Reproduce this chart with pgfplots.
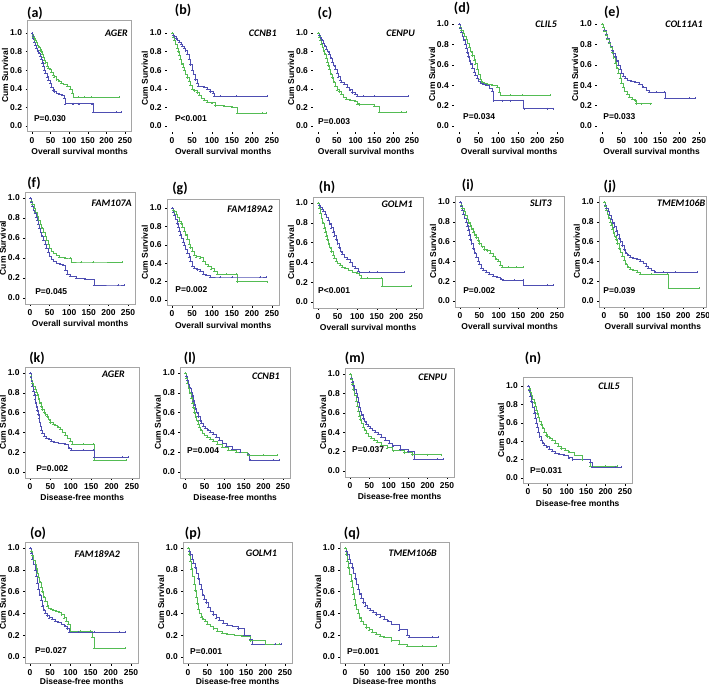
\documentclass[border=0pt]{standalone}
\usepackage{fontspec}
\setmainfont{Liberation Sans}
\newfontfamily\calib{Carlito}
\usepackage{pgfplots}
\pgfplotsset{compat=1.18}
\definecolor{kmblue}{RGB}{78,78,178}
\definecolor{kmgreen}{RGB}{84,188,84}
\definecolor{framegray}{RGB}{165,165,165}
\tikzset{
 gene/.style={anchor=east, font=\calib\bfseries\itshape\fontsize{10}{10}\selectfont, inner sep=0pt},
 pv/.style={anchor=west, font=\fontsize{8.5}{9}\selectfont\bfseries, inner sep=0pt},
 plab/.style={font=\calib\bfseries\fontsize{14}{14}\selectfont, inner sep=0pt},
}
\pgfplotsset{
 km/.style={anchor=origin, xmin=-12, xmax=268, ymin=-0.06, ymax=1.08,
  xtick={0,50,100,150,200,250}, ytick={0,0.2,0.4,0.6,0.8,1.0},
  yticklabel style={/pgf/number format/fixed,/pgf/number format/fixed zerofill,/pgf/number format/precision=1},
  /pgf/number format/assume math mode=true,
  tick label style={font=\fontsize{8.5}{9}\selectfont\bfseries},
  label style={font=\fontsize{8.5}{9}\selectfont\bfseries},
  ylabel={Cum Survival},
  tick pos=left, tick align=outside, major tick length=2pt,
  tick style={black, line width=0.4pt},
  axis line style={framegray, line width=0.6pt},
  xlabel shift=-2pt, ylabel shift=-5pt,
 },
 OS/.style={xlabel={Overall survival months}},
 DF/.style={xlabel={Disease-free months}},
 DFb/.style={xlabel={Disease-free months}, xlabel shift=-4pt},
 noframe/.style={axis line style={draw=none}},
 gl/.style={const plot, color=kmgreen, line width=0.6pt, mark=+, mark size=1pt, mark options={line width=0.35pt}},
 bl/.style={const plot, color=kmblue, line width=0.6pt, mark=+, mark size=1pt, mark options={line width=0.35pt}},
}
\begin{document}
\begin{tikzpicture}
\useasboundingbox (0,0) rectangle (709pt,-686pt);
% ---------------- Row 1 ----------------
\begin{axis}[km, OS, at={(32pt,-126pt)}, x=0.372pt, y=93pt, ymax=1.14]
\addplot[gl] coordinates {(0,1)(2,0.98)(4,0.96)(6,0.94)(9,0.92)(12,0.9)(15,0.87)(18,0.85)(21,0.82)(24,0.8)(27,0.77)(30,0.74)(33,0.71)(36,0.68)(40,0.64)(44,0.62)(48,0.61)(52,0.58)(56,0.55)(60,0.53)(66,0.5)(72,0.48)(78,0.46)(85,0.45)(95,0.43)(102,0.4)(108,0.35)(112,0.31)(125,0.31)(140,0.31)(160,0.31)(235,0.31)};
\addplot[bl] coordinates {(0,1)(2,0.97)(4,0.94)(6,0.9)(9,0.87)(12,0.84)(15,0.81)(18,0.78)(21,0.75)(24,0.72)(27,0.68)(30,0.64)(33,0.6)(36,0.57)(40,0.53)(44,0.49)(48,0.46)(52,0.42)(56,0.39)(60,0.37)(66,0.35)(72,0.34)(80,0.33)(86,0.3)(90,0.24)(110,0.24)(125,0.24)(162,0.24)(164,0.15)(225,0.15)(240,0.15)};
\node[gene] at (axis cs:258,1.0) {AGER};
\node[pv] at (axis cs:5,0.075) {P=0.030};
\end{axis}
\node[plab] at (35pt,-13pt) {(a)};

\begin{axis}[km, OS, noframe, at={(172pt,-126pt)}, x=0.4pt, y=93pt]
\addplot[bl] coordinates {(0,1)(3,0.98)(6,0.96)(10,0.94)(14,0.92)(18,0.9)(22,0.88)(26,0.86)(30,0.84)(34,0.81)(38,0.77)(42,0.72)(46,0.66)(50,0.6)(54,0.56)(58,0.5)(62,0.46)(66,0.43)(80,0.42)(88,0.4)(95,0.37)(102,0.35)(106,0.32)(120,0.32)(160,0.32)(238,0.32)};
\addplot[gl] coordinates {(0,1)(3,0.96)(6,0.92)(9,0.88)(12,0.84)(15,0.8)(18,0.76)(21,0.72)(24,0.67)(27,0.63)(30,0.6)(34,0.56)(38,0.52)(42,0.48)(46,0.44)(50,0.4)(56,0.38)(62,0.36)(68,0.33)(74,0.3)(80,0.28)(88,0.26)(100,0.25)(108,0.22)(130,0.21)(150,0.2)(163,0.14)(225,0.14)(235,0.14)};
\node[gene] at (axis cs:262,1.0) {CCNB1};
\node[pv] at (axis cs:7,0.075) {P<0.001};
\end{axis}
\node[plab] at (183pt,-10pt) {(b)};

\begin{axis}[km, OS, noframe, at={(318pt,-126pt)}, x=0.376pt, y=93pt]
\addplot[bl] coordinates {(0,1)(3,0.98)(6,0.95)(10,0.92)(14,0.89)(18,0.86)(22,0.83)(26,0.8)(30,0.77)(34,0.73)(38,0.69)(42,0.65)(46,0.61)(50,0.57)(54,0.53)(58,0.49)(62,0.47)(70,0.45)(78,0.42)(84,0.39)(90,0.36)(98,0.34)(105,0.32)(120,0.32)(150,0.32)(240,0.32)};
\addplot[gl] coordinates {(0,1)(3,0.96)(6,0.92)(9,0.88)(12,0.85)(15,0.81)(18,0.77)(21,0.73)(24,0.69)(27,0.65)(30,0.61)(34,0.56)(38,0.52)(42,0.47)(46,0.43)(50,0.39)(56,0.37)(62,0.34)(68,0.31)(75,0.29)(85,0.28)(98,0.27)(105,0.24)(110,0.23)(150,0.21)(163,0.15)(220,0.15)(235,0.15)};
\node[gene] at (axis cs:258,1.0) {CENPU};
\node[pv] at (axis cs:0,0.05) {P=0.003};
\end{axis}
\node[plab] at (325pt,-13pt) {(c)};

\begin{axis}[km, OS, noframe, at={(459pt,-126pt)}, x=0.392pt, y=102pt]
\addplot[gl] coordinates {(0,1)(3,0.97)(6,0.94)(10,0.91)(14,0.88)(18,0.85)(22,0.81)(26,0.77)(30,0.73)(34,0.69)(38,0.65)(42,0.61)(46,0.56)(50,0.51)(54,0.46)(58,0.43)(64,0.42)(72,0.41)(85,0.4)(98,0.38)(103,0.33)(106,0.3)(130,0.3)(160,0.3)(232,0.3)};
\addplot[bl] coordinates {(0,1)(3,0.96)(6,0.92)(9,0.88)(12,0.84)(15,0.8)(18,0.76)(21,0.72)(24,0.68)(27,0.64)(30,0.61)(34,0.57)(38,0.53)(42,0.5)(46,0.47)(50,0.44)(55,0.42)(62,0.41)(70,0.4)(78,0.37)(85,0.34)(88,0.25)(110,0.25)(130,0.25)(163,0.25)(165,0.17)(225,0.17)(240,0.17)};
\node[gene] at (axis cs:250,1.0) {CLIL5};
\node[pv] at (axis cs:10,0.09) {P=0.034};
\end{axis}
\node[plab] at (462pt,-8pt) {(d)};

\begin{axis}[km, OS, noframe, at={(602pt,-126pt)}, x=0.388pt, y=102pt]
\addplot[bl] coordinates {(0,1)(3,0.97)(6,0.94)(10,0.9)(14,0.86)(18,0.82)(22,0.78)(26,0.74)(30,0.71)(34,0.68)(38,0.64)(42,0.6)(46,0.56)(50,0.52)(55,0.49)(60,0.47)(66,0.45)(75,0.44)(85,0.43)(95,0.41)(105,0.38)(115,0.35)(122,0.33)(140,0.33)(160,0.33)(163,0.27)(225,0.27)(240,0.27)};
\addplot[gl] coordinates {(0,1)(3,0.97)(6,0.93)(10,0.89)(14,0.85)(18,0.81)(22,0.77)(26,0.72)(30,0.67)(34,0.62)(38,0.57)(42,0.52)(46,0.47)(50,0.42)(54,0.38)(58,0.34)(64,0.31)(70,0.28)(78,0.26)(85,0.25)(88,0.22)(100,0.22)(125,0.22)};
\node[gene] at (axis cs:260,1.0) {COL11A1};
\node[pv] at (axis cs:3,0.09) {P=0.033};
\end{axis}
\node[plab] at (612pt,-12pt) {(e)};

% ---------------- Row 2 ----------------
\begin{axis}[km, OS, at={(30pt,-298pt)}, x=0.392pt, y=100pt, ymax=1.06]
\addplot[gl] coordinates {(0,1)(3,0.97)(6,0.94)(10,0.9)(14,0.86)(18,0.82)(22,0.78)(26,0.74)(30,0.7)(34,0.66)(38,0.62)(42,0.58)(46,0.54)(50,0.5)(55,0.47)(60,0.45)(68,0.43)(75,0.41)(90,0.4)(103,0.4)(106,0.36)(130,0.36)(160,0.36)(235,0.36)};
\addplot[bl] coordinates {(0,1)(3,0.96)(6,0.92)(9,0.88)(12,0.85)(15,0.81)(18,0.78)(21,0.74)(24,0.7)(27,0.66)(30,0.62)(34,0.58)(38,0.54)(42,0.5)(46,0.46)(50,0.42)(55,0.39)(60,0.37)(68,0.35)(76,0.34)(85,0.33)(90,0.28)(95,0.24)(102,0.22)(118,0.2)(140,0.19)(163,0.13)(225,0.13)(240,0.13)};
\node[gene] at (axis cs:260,0.95) {FAM107A};
\node[pv] at (axis cs:13,0.06) {P=0.045};
\end{axis}
\node[plab] at (34pt,-183pt) {(f)};

\begin{axis}[km, OS, at={(172pt,-300pt)}, x=0.4pt, y=92pt, ymax=1.09]
\addplot[gl] coordinates {(0,1)(3,0.98)(6,0.96)(10,0.93)(14,0.9)(18,0.86)(22,0.83)(26,0.79)(30,0.75)(34,0.71)(38,0.66)(42,0.61)(46,0.57)(50,0.53)(55,0.49)(60,0.47)(70,0.46)(78,0.42)(84,0.39)(90,0.37)(98,0.34)(106,0.31)(112,0.28)(135,0.28)(160,0.28)(163,0.2)(238,0.2)};
\addplot[bl] coordinates {(0,1)(3,0.96)(6,0.92)(9,0.88)(12,0.83)(15,0.79)(18,0.75)(21,0.71)(24,0.67)(27,0.63)(30,0.6)(34,0.55)(38,0.51)(42,0.47)(46,0.42)(50,0.37)(56,0.35)(62,0.33)(70,0.31)(78,0.28)(86,0.27)(95,0.25)(120,0.25)(150,0.25)(220,0.25)(235,0.25)};
\node[gene] at (axis cs:252,0.99) {FAM189A2};
\node[pv] at (axis cs:8,0.11) {P=0.002};
\end{axis}
\node[plab] at (180pt,-188pt) {(g)};

\begin{axis}[km, OS, at={(318pt,-302pt)}, x=0.392pt, y=99pt, ymax=1.06]
\addplot[bl] coordinates {(0,1)(3,0.98)(6,0.96)(10,0.94)(14,0.92)(18,0.89)(22,0.86)(26,0.83)(30,0.79)(34,0.75)(38,0.71)(42,0.67)(46,0.63)(50,0.59)(54,0.55)(58,0.51)(62,0.48)(68,0.45)(75,0.43)(82,0.4)(88,0.36)(95,0.34)(102,0.31)(106,0.3)(130,0.3)(150,0.3)(220,0.3)};
\addplot[gl] coordinates {(0,1)(3,0.95)(6,0.9)(9,0.85)(12,0.8)(15,0.75)(18,0.71)(21,0.67)(24,0.63)(27,0.59)(30,0.55)(34,0.51)(38,0.47)(42,0.44)(46,0.41)(50,0.39)(56,0.37)(62,0.35)(70,0.34)(78,0.32)(88,0.3)(100,0.29)(106,0.27)(110,0.24)(125,0.24)(160,0.24)(163,0.16)(238,0.16)};
\node[gene] at (axis cs:242,0.99) {GOLM1};
\node[pv] at (axis cs:0,0.12) {P<0.001};
\end{axis}
\node[plab] at (327pt,-187pt) {(h)};

\begin{axis}[km, OS, at={(460pt,-301pt)}, x=0.388pt, y=99pt, ymax=1.06]
\addplot[gl] coordinates {(0,1)(3,0.97)(6,0.94)(10,0.91)(14,0.87)(18,0.83)(22,0.79)(26,0.76)(30,0.73)(34,0.7)(38,0.67)(42,0.64)(46,0.61)(50,0.58)(56,0.55)(62,0.52)(70,0.51)(78,0.48)(86,0.45)(92,0.42)(98,0.4)(104,0.36)(108,0.34)(125,0.34)(145,0.34)(162,0.34)};
\addplot[bl] coordinates {(0,1)(3,0.96)(6,0.92)(9,0.88)(12,0.84)(15,0.8)(18,0.76)(21,0.72)(24,0.67)(27,0.62)(30,0.58)(34,0.53)(38,0.48)(42,0.44)(46,0.4)(50,0.37)(55,0.33)(60,0.31)(68,0.29)(76,0.27)(86,0.25)(95,0.24)(105,0.22)(112,0.21)(140,0.21)(162,0.21)(164,0.16)(225,0.16)(240,0.16)};
\node[gene] at (axis cs:237,0.99) {SLIT3};
\node[pv] at (axis cs:8,0.11) {P=0.002};
\end{axis}
\node[plab] at (468pt,-185pt) {(i)};

\begin{axis}[km, OS, at={(604pt,-301pt)}, x=0.396pt, y=99pt, ymax=1.06, xmax=259]
\addplot[bl] coordinates {(0,1)(3,0.97)(6,0.94)(10,0.91)(14,0.87)(18,0.83)(22,0.79)(26,0.75)(30,0.71)(34,0.67)(38,0.63)(42,0.6)(46,0.56)(50,0.52)(55,0.48)(60,0.46)(66,0.44)(74,0.43)(84,0.42)(92,0.4)(100,0.38)(106,0.35)(112,0.33)(120,0.31)(128,0.29)(150,0.29)(180,0.29)(235,0.29)};
\addplot[gl] coordinates {(0,1)(3,0.96)(6,0.92)(9,0.88)(12,0.84)(15,0.8)(18,0.77)(21,0.73)(24,0.69)(27,0.65)(30,0.62)(34,0.58)(38,0.53)(42,0.49)(46,0.45)(50,0.41)(55,0.37)(60,0.34)(66,0.32)(74,0.31)(84,0.29)(92,0.27)(120,0.27)(160,0.27)(163,0.13)(240,0.13)};
\node[gene] at (axis cs:256,0.99) {TMEM106B};
\node[pv] at (axis cs:-2,0.11) {P=0.039};
\end{axis}
\node[plab] at (610pt,-186pt) {(j)};

% ---------------- Row 3 ----------------
\begin{axis}[km, DF, at={(30pt,-472pt)}, x=0.408pt, y=99pt, ymax=1.06]
\addplot[gl] coordinates {(0,1)(2,0.97)(4,0.93)(6,0.9)(9,0.87)(12,0.84)(15,0.81)(18,0.78)(21,0.74)(24,0.7)(27,0.66)(30,0.63)(34,0.6)(38,0.58)(42,0.56)(46,0.53)(50,0.5)(56,0.48)(62,0.47)(68,0.45)(74,0.43)(80,0.4)(86,0.37)(92,0.34)(98,0.31)(104,0.28)(130,0.28)(155,0.28)(158,0.12)(235,0.12)};
\addplot[bl] coordinates {(0,1)(2,0.96)(4,0.92)(6,0.87)(8,0.82)(10,0.78)(12,0.74)(14,0.7)(16,0.66)(18,0.62)(20,0.58)(22,0.54)(24,0.5)(26,0.46)(28,0.42)(30,0.39)(34,0.36)(40,0.34)(46,0.33)(52,0.31)(60,0.3)(70,0.29)(85,0.28)(95,0.24)(100,0.22)(130,0.22)(155,0.22)(158,0.15)(225,0.15)(240,0.15)};
\node[gene] at (axis cs:233,0.99) {AGER};
\node[pv] at (axis cs:15,0.03) {P=0.002};
\end{axis}
\node[plab] at (37pt,-358pt) {(k)};

\begin{axis}[km, DF, at={(185pt,-472pt)}, x=0.392pt, y=99pt, ymax=1.06]
\addplot[bl] coordinates {(0,1)(3,0.97)(6,0.93)(9,0.89)(12,0.85)(15,0.81)(18,0.77)(21,0.72)(24,0.68)(27,0.64)(30,0.6)(34,0.56)(38,0.52)(42,0.49)(46,0.46)(52,0.44)(58,0.42)(65,0.4)(72,0.38)(80,0.35)(88,0.32)(96,0.29)(105,0.26)(120,0.23)(140,0.2)(160,0.18)(165,0.12)(225,0.12)(240,0.12)};
\addplot[gl] coordinates {(0,1)(3,0.95)(6,0.9)(9,0.85)(12,0.8)(15,0.75)(18,0.7)(21,0.65)(24,0.6)(27,0.56)(30,0.52)(33,0.48)(36,0.45)(40,0.42)(45,0.39)(50,0.37)(56,0.35)(64,0.33)(72,0.31)(82,0.28)(95,0.25)(110,0.22)(130,0.2)(160,0.17)(200,0.17)(235,0.17)};
\node[gene] at (axis cs:242,0.97) {CCNB1};
\node[pv] at (axis cs:5,0.22) {P=0.004};
\end{axis}
\node[plab] at (190pt,-358pt) {(l)};

\begin{axis}[km, DF, at={(350pt,-471pt)}, x=0.388pt, y=97pt, ymax=1.06]
\addplot[bl] coordinates {(0,1)(3,0.96)(6,0.92)(9,0.88)(12,0.84)(15,0.8)(18,0.76)(21,0.71)(24,0.66)(27,0.62)(30,0.58)(34,0.54)(38,0.51)(42,0.48)(46,0.46)(52,0.44)(58,0.42)(65,0.4)(72,0.38)(80,0.35)(90,0.32)(100,0.29)(110,0.26)(130,0.22)(150,0.2)(165,0.12)(225,0.12)(240,0.12)};
\addplot[gl] coordinates {(0,1)(3,0.95)(6,0.9)(9,0.84)(12,0.78)(15,0.72)(18,0.67)(21,0.62)(24,0.57)(27,0.53)(30,0.49)(34,0.45)(38,0.42)(42,0.39)(48,0.36)(55,0.34)(62,0.32)(70,0.3)(80,0.27)(95,0.24)(110,0.21)(140,0.19)(160,0.17)(200,0.17)(235,0.17)};
\node[gene] at (axis cs:250,0.97) {CENPU};
\node[pv] at (axis cs:5,0.22) {P=0.037};
\end{axis}
\node[plab] at (355pt,-358pt) {(m)};

\begin{axis}[km, DF, at={(528pt,-478pt)}, x=0.388pt, y=92pt, ymax=1.1]
\addplot[gl] coordinates {(0,1)(3,0.97)(6,0.93)(9,0.9)(12,0.86)(15,0.82)(18,0.78)(21,0.74)(24,0.7)(27,0.66)(30,0.62)(34,0.58)(38,0.54)(42,0.5)(46,0.47)(50,0.45)(56,0.43)(62,0.41)(70,0.38)(78,0.35)(86,0.32)(95,0.3)(105,0.28)(120,0.25)(140,0.2)(160,0.13)(200,0.13)(230,0.13)};
\addplot[bl] coordinates {(0,1)(3,0.95)(6,0.89)(9,0.83)(12,0.77)(15,0.71)(18,0.65)(21,0.6)(24,0.55)(27,0.5)(30,0.45)(34,0.41)(38,0.38)(42,0.36)(48,0.34)(55,0.31)(62,0.29)(70,0.27)(80,0.26)(92,0.25)(105,0.22)(115,0.2)(160,0.17)(165,0.12)(225,0.12)(240,0.12)};
\node[gene] at (axis cs:237,1.0) {CLIL5};
\node[pv] at (axis cs:5,0.08) {P=0.031};
\end{axis}
\node[plab] at (533pt,-358pt) {(n)};

% ---------------- Row 4 ----------------
\begin{axis}[km, DFb, at={(30pt,-657pt)}, x=0.404pt, y=109pt, ymax=1.055]
\addplot[gl] coordinates {(0,1)(3,0.97)(6,0.93)(9,0.89)(12,0.85)(15,0.81)(18,0.77)(21,0.73)(24,0.69)(27,0.64)(30,0.6)(34,0.55)(38,0.51)(42,0.47)(46,0.45)(52,0.44)(58,0.43)(65,0.42)(72,0.41)(78,0.39)(84,0.36)(90,0.33)(95,0.3)(100,0.24)(125,0.24)(150,0.24)(153,0.18)(158,0.08)(235,0.08)};
\addplot[bl] coordinates {(0,1)(3,0.95)(6,0.9)(9,0.85)(12,0.8)(15,0.74)(18,0.68)(21,0.62)(24,0.57)(27,0.52)(30,0.47)(34,0.43)(38,0.4)(42,0.38)(48,0.36)(55,0.35)(62,0.33)(70,0.32)(78,0.3)(86,0.28)(92,0.26)(97,0.23)(120,0.23)(160,0.23)(220,0.23)(235,0.23)};
\node[gene] at (axis cs:223,0.94) {FAM189A2};
\node[pv] at (axis cs:12,0.055) {P=0.027};
\end{axis}
\node[plab] at (38pt,-533pt) {(o)};

\begin{axis}[km, DFb, at={(188pt,-657pt)}, x=0.388pt, y=109pt, ymax=1.055]
\addplot[bl] coordinates {(0,1)(3,0.97)(6,0.94)(10,0.9)(14,0.86)(18,0.82)(22,0.77)(26,0.72)(30,0.67)(34,0.62)(38,0.57)(42,0.53)(46,0.5)(52,0.46)(58,0.42)(64,0.39)(72,0.36)(80,0.34)(90,0.31)(100,0.29)(115,0.28)(130,0.26)(145,0.2)(160,0.16)(165,0.12)(225,0.12)(240,0.12)};
\addplot[gl] coordinates {(0,1)(3,0.94)(6,0.88)(9,0.81)(12,0.74)(15,0.67)(18,0.61)(21,0.55)(24,0.49)(27,0.44)(30,0.4)(34,0.37)(38,0.35)(44,0.33)(50,0.3)(58,0.28)(66,0.26)(75,0.24)(88,0.22)(100,0.21)(120,0.2)(140,0.19)(160,0.15)(200,0.12)(235,0.12)};
\node[gene] at (axis cs:230,0.95) {GOLM1};
\node[pv] at (axis cs:5,0.05) {P=0.001};
\end{axis}
\node[plab] at (193pt,-533pt) {(p)};

\begin{axis}[km, DFb, at={(345pt,-657pt)}, x=0.388pt, y=109pt, ymax=1.055]
\addplot[bl] coordinates {(0,1)(3,0.97)(6,0.94)(10,0.9)(14,0.86)(18,0.82)(22,0.77)(26,0.72)(30,0.67)(34,0.62)(38,0.58)(42,0.54)(46,0.5)(52,0.47)(58,0.45)(64,0.43)(72,0.41)(80,0.39)(90,0.37)(100,0.35)(110,0.33)(120,0.3)(140,0.25)(160,0.2)(165,0.18)(225,0.18)(240,0.18)};
\addplot[gl] coordinates {(0,1)(3,0.94)(6,0.88)(9,0.82)(12,0.76)(15,0.7)(18,0.64)(21,0.58)(24,0.53)(27,0.48)(30,0.44)(34,0.4)(38,0.36)(42,0.33)(48,0.3)(55,0.27)(62,0.25)(70,0.23)(80,0.21)(90,0.19)(100,0.18)(120,0.15)(140,0.12)(160,0.1)(200,0.1)(235,0.1)};
\node[gene] at (axis cs:237,0.95) {TMEM106B};
\node[pv] at (axis cs:5,0.05) {P=0.001};
\end{axis}
\node[plab] at (352pt,-533pt) {(q)};
\end{tikzpicture}
\end{document}
